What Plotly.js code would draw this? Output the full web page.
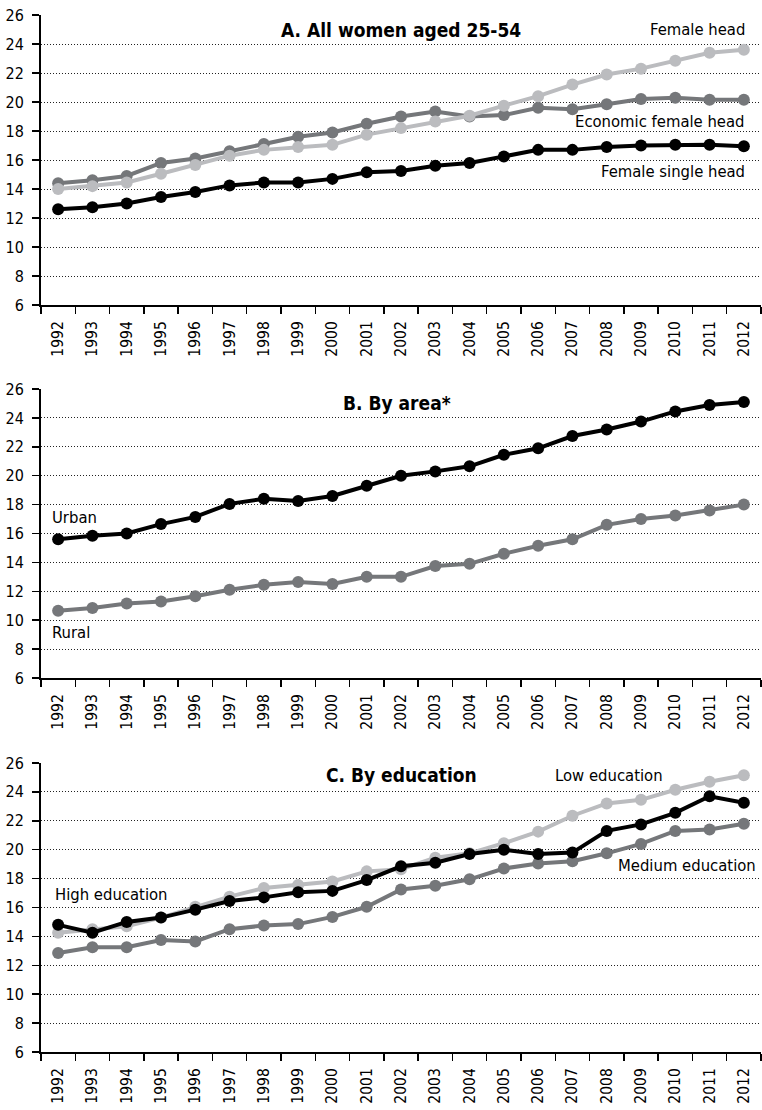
<!DOCTYPE html>
<html>
<head>
<meta charset="utf-8">
<script src="https://cdn.plot.ly/plotly-3.0.1.min.js"></script>
<style>html,body{margin:0;padding:0;background:#fff;}#chart{width:762px;height:1110px;}</style>
</head>
<body>
<div id="chart"></div>
<script>
const years = ['1992','1993','1994','1995','1996','1997','1998','1999','2000','2001','2002','2003','2004','2005','2006','2007','2008','2009','2010','2011','2012'];

// Panel A
const economicFemaleHead = [14.4,14.6,14.9,15.8,16.1,16.6,17.1,17.6,17.9,18.5,19.0,19.35,19.0,19.1,19.6,19.5,19.85,20.2,20.3,20.15,20.15];
const femaleHead = [14.0,14.2,14.45,15.05,15.65,16.3,16.7,16.9,17.05,17.75,18.2,18.65,19.05,19.75,20.4,21.2,21.9,22.3,22.85,23.4,23.6];
const femaleSingleHead = [12.6,12.75,13.0,13.45,13.8,14.25,14.45,14.45,14.7,15.15,15.25,15.6,15.8,16.25,16.7,16.7,16.9,17.0,17.05,17.05,16.95];

// Panel B
const urban = [15.6,15.85,16.0,16.65,17.15,18.05,18.4,18.25,18.6,19.3,20.0,20.3,20.65,21.45,21.9,22.75,23.2,23.75,24.45,24.9,25.1];
const rural = [10.65,10.85,11.15,11.3,11.65,12.1,12.45,12.65,12.5,13.0,13.0,13.75,13.9,14.6,15.15,15.6,16.6,17.0,17.25,17.6,18.0];

// Panel C
const mediumEducation = [12.85,13.25,13.25,13.75,13.65,14.5,14.75,14.85,15.35,16.05,17.25,17.5,17.95,18.7,19.05,19.2,19.75,20.4,21.3,21.4,21.8];
const lowEducation = [14.25,14.5,14.7,15.3,16.05,16.75,17.35,17.55,17.8,18.5,18.65,19.45,19.75,20.45,21.25,22.35,23.2,23.45,24.15,24.7,25.15];
const highEducation = [14.8,14.25,15.0,15.3,15.85,16.45,16.7,17.05,17.15,17.9,18.85,19.1,19.7,20.0,19.7,19.8,21.3,21.75,22.55,23.7,23.25];

const yTicks = [6,8,10,12,14,16,18,20,22,24,26];

const BLACK = '#000000', DARK = '#75777a', LIGHT = '#bbbcbf';
const FONT = '"DejaVu Sans Condensed", "Liberation Sans Narrow", sans-serif';

function tr(y, color, xa, ya) {
  return {x: years, y: y, type: 'scatter', mode: 'lines+markers', xaxis: xa, yaxis: ya,
    line: {color: color, width: 4}, marker: {color: color, size: 12}, hoverinfo: 'skip', showlegend: false};
}

const data = [
  tr(economicFemaleHead, DARK, 'x', 'y'),
  tr(femaleHead, LIGHT, 'x', 'y'),
  tr(femaleSingleHead, BLACK, 'x', 'y'),
  tr(rural, DARK, 'x2', 'y2'),
  tr(urban, BLACK, 'x2', 'y2'),
  tr(mediumEducation, DARK, 'x3', 'y3'),
  tr(lowEducation, LIGHT, 'x3', 'y3'),
  tr(highEducation, BLACK, 'x3', 'y3')
];

function xax(anchor) {
  return {anchor: anchor, type: 'category', range: [-0.5, 20.5], tickson: 'boundaries',
    ticks: 'outside', ticklen: 7, tickwidth: 1.5, tickcolor: '#000', showline: true, linecolor: '#000', linewidth: 2,
    showgrid: false, zeroline: false, tickangle: -90, ticklabelstandoff: 8,
    tickfont: {family: FONT, size: 15.5, color: '#000'}, fixedrange: true};
}
function yax(domain, anchor) {
  return {domain: domain, anchor: anchor, range: [6, 26], tickvals: yTicks, ticktext: yTicks.map(String),
    ticks: 'outside', ticklen: 7, tickwidth: 1.5, tickcolor: '#000', showline: true, linecolor: '#000', linewidth: 2,
    showgrid: true, gridcolor: '#222', gridwidth: 1, griddash: '1px,2px', zeroline: false, ticklabelstandoff: 5,
    tickfont: {family: FONT, size: 16, color: '#000'}, fixedrange: true};
}

function lab(text, x, y, xref, yref, xanchor, bold) {
  return {text: bold ? '<b>' + text + '</b>' : text, x: x, y: y, xref: xref, yref: yref, xanchor: xanchor, yanchor: 'middle',
    showarrow: false, font: {family: FONT, size: bold ? 19 : 16.5, color: '#000'}};
}

const layout = {
  width: 762, height: 1110,
  margin: {l: 41, r: 1, t: 15, b: 58},
  paper_bgcolor: '#fff', plot_bgcolor: '#fff',
  xaxis: xax('y'), yaxis: yax([0.7203, 1], 'x'),
  xaxis2: xax('y2'), yaxis2: yax([0.3607, 0.6393], 'x2'),
  xaxis3: xax('y3'), yaxis3: yax([0, 0.2787], 'x3'),
  annotations: [
    lab('A. All women aged 25-54', 0.5, 24.97, 'paper', 'y', 'center', true),
    lab('Female head', 0.9806, 24.97, 'paper', 'y', 'right'),
    lab('Economic female head', 0.9806, 18.64, 'paper', 'y', 'right'),
    lab('Female single head', 0.9806, 15.19, 'paper', 'y', 'right'),
    lab('B. By area*', 0.494, 25.05, 'paper', 'y2', 'center', true),
    lab('Urban', 0.0125, 17.09, 'paper', 'y2', 'left'),
    lab('Rural', 0.0125, 9.13, 'paper', 'y2', 'left'),
    lab('C. By education', 0.501, 25.19, 'paper', 'y3', 'center', true),
    lab('Low education', 0.711, 25.12, 'paper', 'y3', 'left'),
    lab('Medium education', 0.7986, 18.88, 'paper', 'y3', 'left'),
    lab('High education', 0.0167, 16.87, 'paper', 'y3', 'left')
  ]
};

Plotly.newPlot('chart', data, layout, {displayModeBar: false, staticPlot: true});
</script>
</body>
</html>
